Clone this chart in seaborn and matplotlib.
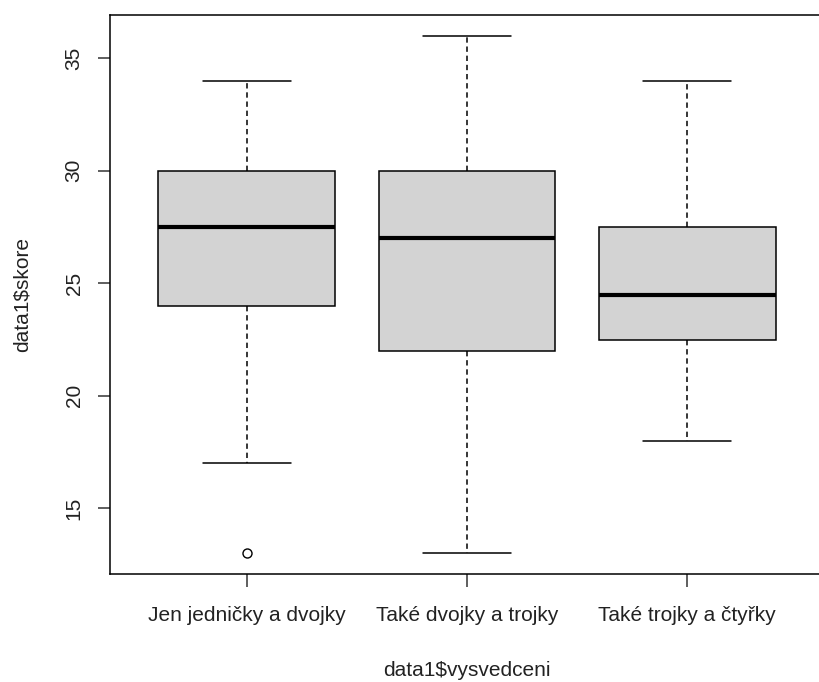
import pandas as pd
import matplotlib.pyplot as plt
import seaborn as sns

sns.set_style("white")
plt.rcParams['font.family'] = ['Liberation Sans', 'DejaVu Sans']

# ── data: raw scores per group (reproduce the R boxplot five-number summaries) ──
GROUPS = ["Jen jedničky a dvojky", "Také dvojky a trojky", "Také trojky a čtyřky"]
skore_g1 = [13, 17, 24, 24, 27, 28, 30, 30, 32, 34]
skore_g2 = [13, 20, 22, 22, 26, 28, 30, 30, 33, 36]
skore_g3 = [18, 21, 22.5, 22.5, 24, 25, 27.5, 27.5, 30, 34]
Y_TICKS = [15, 20, 25, 30, 35]

df = pd.DataFrame({
    "vysvedceni": [GROUPS[0]] * len(skore_g1) + [GROUPS[1]] * len(skore_g2) + [GROUPS[2]] * len(skore_g3),
    "skore": skore_g1 + skore_g2 + skore_g3,
})

fig = plt.figure(figsize=(8.2, 6.82), dpi=100)
ax = fig.add_axes([110 / 820, 1 - 574 / 682, 714 / 820, 559 / 682])

sns.boxplot(
    data=df, x="vysvedceni", y="skore", order=GROUPS, ax=ax,
    color="#D3D3D3", linecolor="black", linewidth=1.1, width=0.8,
    saturation=1, whis=1.5,
    boxprops=dict(facecolor="#D3D3D3", edgecolor="black"),
    whiskerprops=dict(linestyle=(0, (3.5, 2.5)), color="black"),
    capprops=dict(color="black"),
    medianprops=dict(color="black", linewidth=3),
    flierprops=dict(marker="o", markerfacecolor="none", markeredgecolor="black",
                    markersize=6.5, markeredgewidth=1),
)

ax.set_xlim(-0.62, 2.62)
ax.set_ylim(12.08, 36.92)
ax.set_yticks(Y_TICKS)
ax.set_yticklabels([str(t) for t in Y_TICKS], rotation=90, va="center")

for s in ax.spines.values():
    s.set_color("black")
    s.set_linewidth(1.1)

ax.tick_params(axis="both", direction="out", length=9, width=1.1, color="#333333",
               labelsize=15, labelcolor="#222222", bottom=True, left=True)
ax.tick_params(axis="x", pad=14)
ax.tick_params(axis="y", pad=10)

ax.set_xlabel("data1$vysvedceni", fontsize=15, color="#222222", labelpad=26)
ax.set_ylabel("data1$skore", fontsize=15, color="#222222", labelpad=24)

fig.savefig("out.png", dpi=100)
